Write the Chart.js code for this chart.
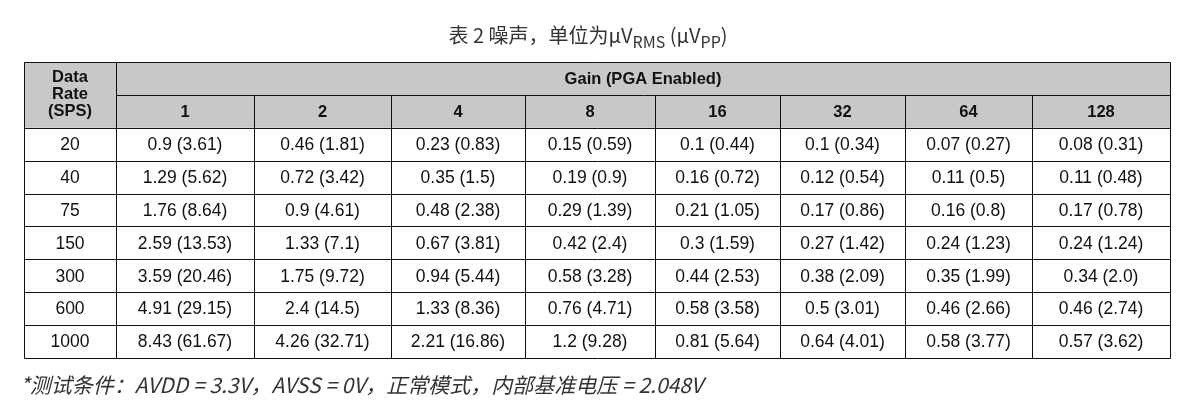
<!DOCTYPE html>
<html><head><meta charset="utf-8">
<script src="https://cdn.jsdelivr.net/npm/chart.js@4"></script>
<style>html,body{margin:0;padding:0;background:#fff}#w{width:1187px;height:414px}</style>
</head><body><div id="w"><canvas id="c"></canvas></div>
<script>
const rates = ['20','40','75','150','300','600','1000'];
const gains = ['1','2','4','8','16','32','64','128'];
const noise = [
 ['0.9 (3.61)','0.46 (1.81)','0.23 (0.83)','0.15 (0.59)','0.1 (0.44)','0.1 (0.34)','0.07 (0.27)','0.08 (0.31)'],
 ['1.29 (5.62)','0.72 (3.42)','0.35 (1.5)','0.19 (0.9)','0.16 (0.72)','0.12 (0.54)','0.11 (0.5)','0.11 (0.48)'],
 ['1.76 (8.64)','0.9 (4.61)','0.48 (2.38)','0.29 (1.39)','0.21 (1.05)','0.17 (0.86)','0.16 (0.8)','0.17 (0.78)'],
 ['2.59 (13.53)','1.33 (7.1)','0.67 (3.81)','0.42 (2.4)','0.3 (1.59)','0.27 (1.42)','0.24 (1.23)','0.24 (1.24)'],
 ['3.59 (20.46)','1.75 (9.72)','0.94 (5.44)','0.58 (3.28)','0.44 (2.53)','0.38 (2.09)','0.35 (1.99)','0.34 (2.0)'],
 ['4.91 (29.15)','2.4 (14.5)','1.33 (8.36)','0.76 (4.71)','0.58 (3.58)','0.5 (3.01)','0.46 (2.66)','0.46 (2.74)'],
 ['8.43 (61.67)','4.26 (32.71)','2.21 (16.86)','1.2 (9.28)','0.81 (5.64)','0.64 (4.01)','0.58 (3.77)','0.57 (3.62)']
];
const headerText = 'Gain (PGA Enabled)';
const rateHeader = ['Data','Rate','(SPS)'];
const footnote = '*测试条件：AVDD = 3.3V，AVSS = 0V，正常模式，内部基准电压 = 2.048V';

// layout: column edges in table units
const colEdges = [0,92,230,367,501,631,756,881,1008,1146];

const tablePlugin = {
  id:'table',
  afterDraw(chart){
    const ctx = chart.ctx, xs = chart.scales.x, ys = chart.scales.y;
    const X = v=>xs.getPixelForValue(v), Y = v=>ys.getPixelForValue(v);
    const nRows = 2 + rates.length;
    ctx.save();
    ctx.fillStyle = '#c8c8c8';
    ctx.fillRect(X(0),Y(0),X(1146)-X(0),Y(2)-Y(0));
    ctx.strokeStyle='#111'; ctx.lineWidth=1;
    const L = (x1,y1,x2,y2)=>{ctx.beginPath();ctx.moveTo(Math.round(x1)+0.5,Math.round(y1)+0.5);ctx.lineTo(Math.round(x2)+0.5,Math.round(y2)+0.5);ctx.stroke();};
    L(X(0),Y(0),X(1146),Y(0));
    L(X(colEdges[1]),Y(1),X(1146),Y(1));
    for(let r=2;r<=nRows;r++) L(X(0),Y(r),X(1146),Y(r));
    L(X(0),Y(0),X(0),Y(nRows));
    L(X(colEdges[1]),Y(0),X(colEdges[1]),Y(nRows));
    L(X(1146),Y(0),X(1146),Y(nRows));
    for(let c=2;c<colEdges.length-1;c++) L(X(colEdges[c]),Y(1),X(colEdges[c]),Y(nRows));
    ctx.fillStyle='#111'; ctx.textAlign='center'; ctx.textBaseline='middle';
    ctx.font='bold 16.5px "Liberation Sans", Arial, sans-serif';
    const cx0=(X(0)+X(colEdges[1]))/2;
    rateHeader.forEach((t,i)=>ctx.fillText(t,cx0,Y(1)+(i-1)*17));
    ctx.fillText(headerText,(X(colEdges[1])+X(1146))/2,(Y(0)+Y(1))/2+1);
    gains.forEach((g,i)=>ctx.fillText(g,(X(colEdges[i+1])+X(colEdges[i+2]))/2,(Y(1)+Y(2))/2+1));
    ctx.font='17.5px "Liberation Sans", Arial, sans-serif';
    rates.forEach((r,ri)=>{
      const cy=(Y(ri+2)+Y(ri+3))/2+1;
      ctx.fillText(r,cx0,cy);
      noise[ri].forEach((v,ci)=>ctx.fillText(v,(X(colEdges[ci+1])+X(colEdges[ci+2]))/2,cy));
    });
    ctx.fillStyle='#333'; ctx.textAlign='left'; ctx.textBaseline='alphabetic';
    const big='20px "Noto Sans CJK SC", sans-serif', small='16px "Noto Sans CJK SC", sans-serif';
    const parts=[['表 2 噪声，单位为μV',big,0],['RMS',small,5],[' (μV',big,0],['PP',small,5],[')',big,0]];
    let w=0; parts.forEach(p=>{ctx.font=p[1];w+=ctx.measureText(p[0]).width;});
    let x=588-w/2;
    parts.forEach(p=>{ctx.font=p[1];ctx.fillText(p[0],x,43+p[2]);x+=ctx.measureText(p[0]).width;});
    ctx.font='italic 21px "Noto Sans CJK SC", sans-serif';
    ctx.fillText(footnote,20,393);
    ctx.restore();
  }
};

new Chart(document.getElementById('c'),{
  type:'scatter',
  data:{datasets:[{data:[],pointRadius:0}]},
  options:{
    responsive:true, maintainAspectRatio:false, animation:false,
    layout:{padding:{left:24,right:17,top:62,bottom:56}},
    plugins:{legend:{display:false},tooltip:{enabled:false}},
    scales:{
      x:{type:'linear',min:0,max:1146,display:false},
      y:{type:'linear',min:0,max:9,reverse:true,display:false}
    }
  },
  plugins:[tablePlugin]
});
</script></body></html>
